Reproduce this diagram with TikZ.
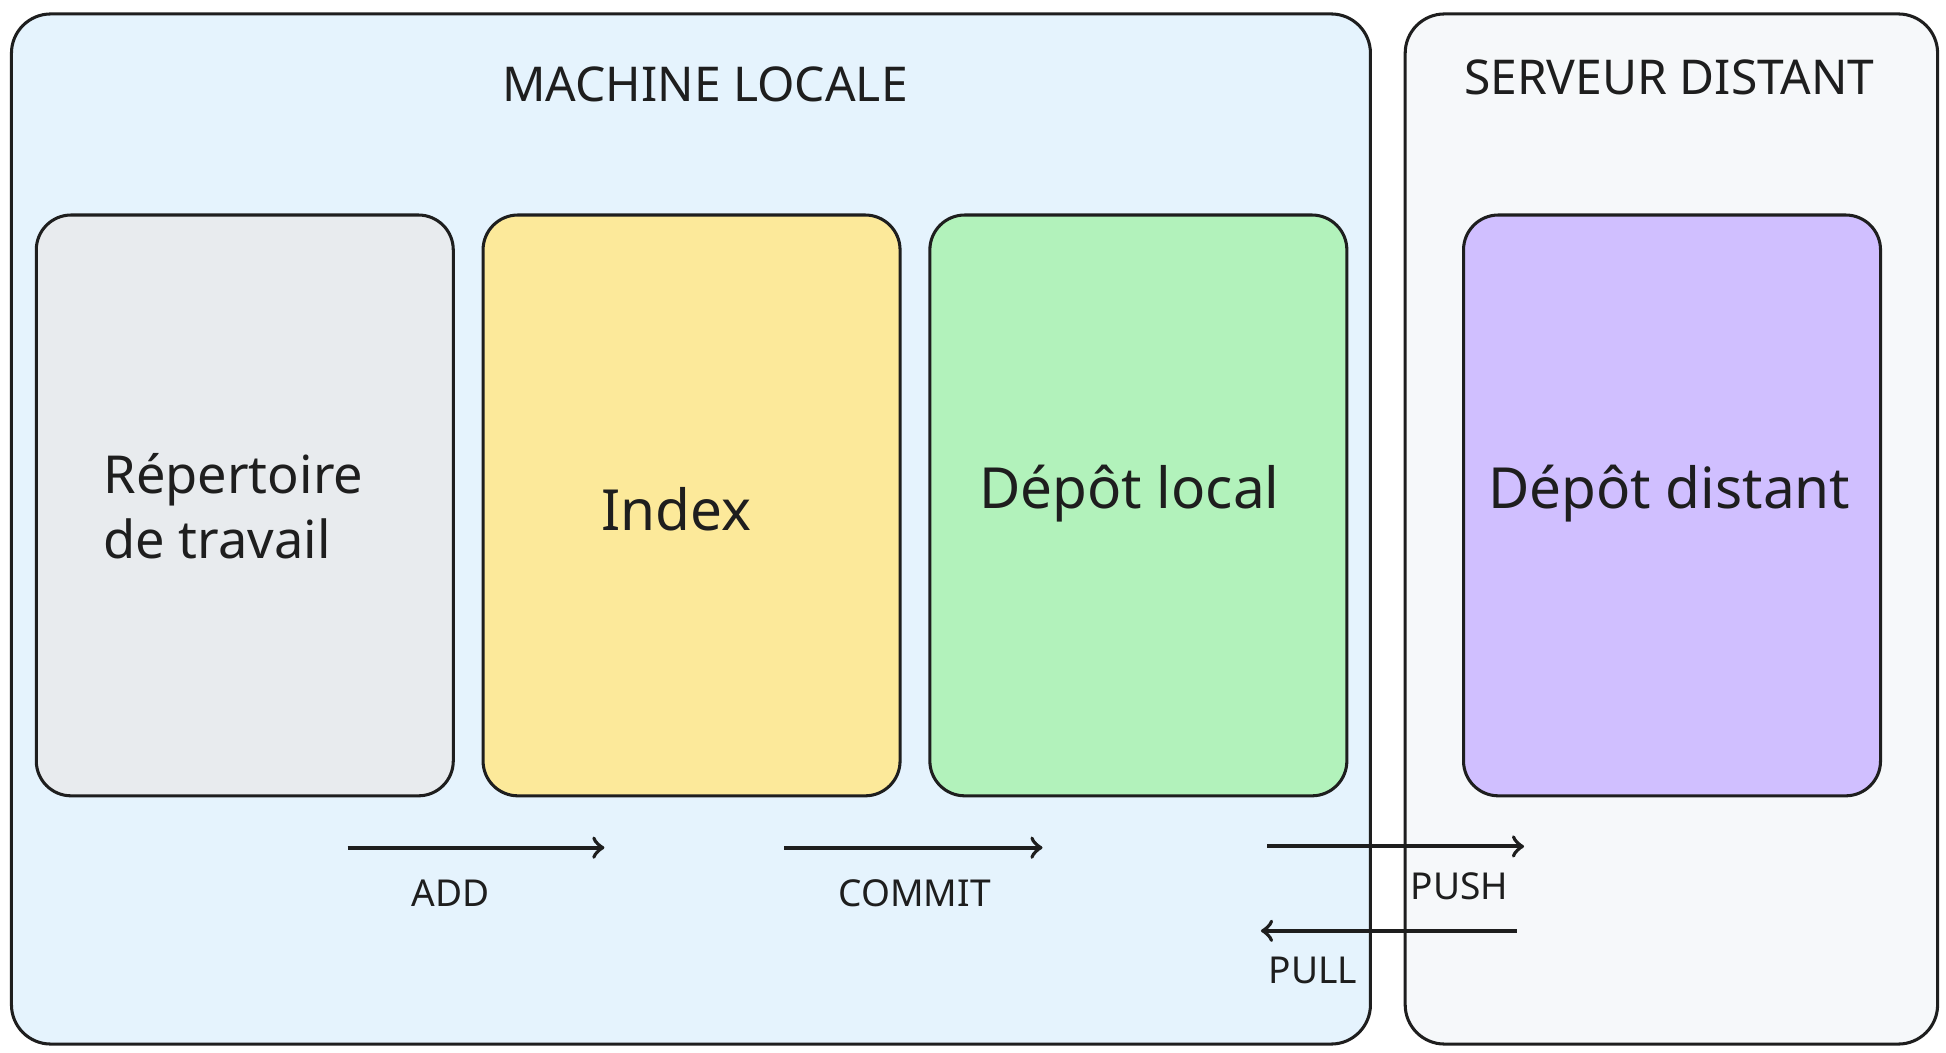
\documentclass[tikz,border=0pt]{standalone}
\usepackage{fontspec}
\setmainfont{Noto Sans}
\usetikzlibrary{positioning}
\definecolor{localbg}{HTML}{E5F3FD}
\definecolor{serverbg}{HTML}{F6F8FA}
\definecolor{grayfill}{HTML}{E8EBEE}
\definecolor{yellowfill}{HTML}{FCE99A}
\definecolor{greenfill}{HTML}{B2F2BB}
\definecolor{purplefill}{HTML}{D0BFFF}
\definecolor{ink}{HTML}{1E1E1E}
\tikzset{
  zone/.style={draw=ink, line width=0.7pt, rounded corners=9pt, anchor=north west, inner sep=0pt},
  stage/.style={draw=ink, line width=0.7pt, rounded corners=8pt, minimum width=3.36cm, minimum height=4.68cm, anchor=north west},
  stagetext/.style={font=\fontsize{13}{16}\selectfont, align=left, text=ink},
  title/.style={font=\fontsize{11}{13}\selectfont, text=ink},
  gitverb/.style={font=\fontsize{8.5}{10}\selectfont, text=ink},
  flow/.style={->, draw=ink, line width=0.9pt}
}
\begin{document}
\begin{tikzpicture}[x=1cm, y=-1cm]
\useasboundingbox (0,0) rectangle (15.68,8.48);
\node (local)[zone, fill=localbg, minimum width=10.95cm, minimum height=8.30cm] at (0.08,0.10) {};
\node (server)[zone, fill=serverbg, minimum width=4.29cm, minimum height=8.30cm] at (11.31,0.10) {};
\node (tlocal)[title] at (5.68,0.68) {MACHINE LOCALE};
\node (tserver)[title] at (13.45,0.62) {SERVEUR DISTANT};
\node (work)[stage, fill=grayfill] at (0.28,1.72) {};
\node (index)[stage, fill=yellowfill] at (3.88,1.72) {};
\node (repo)[stage, fill=greenfill] at (7.48,1.72) {};
\node (remote)[stage, fill=purplefill] at (11.78,1.72) {};
\node (lwork)[stagetext, font=\fontsize{12}{15}\selectfont] at (1.88,4.08) {Répertoire\\de travail};
\node (lindex)[stagetext] at (5.45,4.10) {Index};
\node (lrepo)[stagetext] at (9.10,3.98) {Dépôt local};
\node (lremote)[stagetext] at (13.45,3.98) {Dépôt distant};
% transitions
\coordinate (a1) at (2.80,6.83); \coordinate (a2) at (4.87,6.83);
\coordinate (c1) at (6.32,6.83); \coordinate (c2) at (8.40,6.83);
\coordinate (p1) at (10.21,6.82); \coordinate (p2) at (12.28,6.82);
\coordinate (l1) at (12.22,7.50); \coordinate (l2) at (10.16,7.50);
\draw[flow] (a1) -- (a2);
\draw[flow] (c1) -- (c2);
\draw[flow] (p1) -- (p2);
\draw[flow] (l1) -- (l2);
\node (add)[gitverb] at (3.63,7.20) {ADD};
\node (commit)[gitverb] at (7.37,7.20) {COMMIT};
\node (push)[gitverb] at (11.76,7.14) {PUSH};
\node (pull)[gitverb] at (10.58,7.82) {PULL};
\end{tikzpicture}
\end{document}
